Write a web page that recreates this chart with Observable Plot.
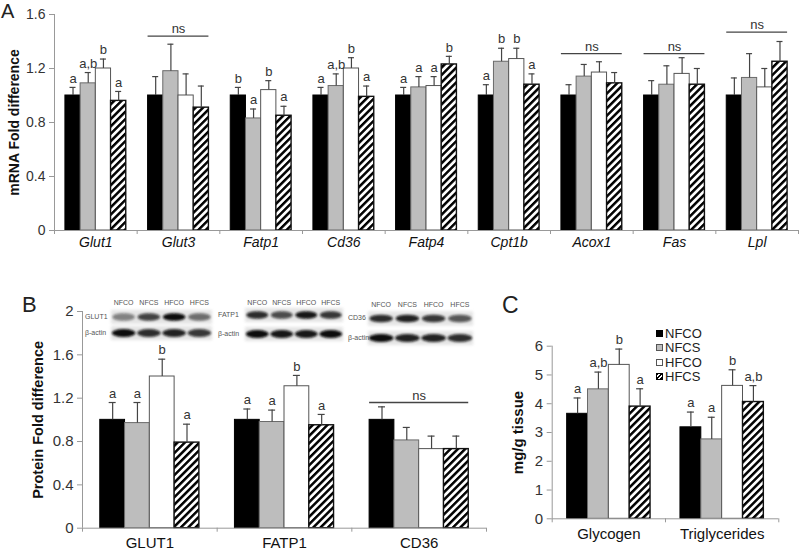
<!DOCTYPE html>
<html><head><meta charset="utf-8">
<script src="https://cdn.jsdelivr.net/npm/d3@7"></script>
<script src="https://cdn.jsdelivr.net/npm/@observablehq/plot@0.6"></script>
<style>
body{margin:0;background:#fff;font-family:"Liberation Sans",Arial,sans-serif;}
#fig{position:relative;width:800px;height:552px;overflow:hidden;background:#fff;}
.panel{position:absolute;}
.plabel{position:absolute;color:#222;line-height:1;}
.leg{position:absolute;font-size:13px;color:#222;line-height:13px;white-space:nowrap;}
.sw{display:inline-block;width:7px;height:7px;margin-right:2px;vertical-align:1px;box-sizing:border-box;}
</style></head><body><div id="fig"></div>
<script>
// ---------- data ----------
const groups = ["NFCO", "NFCS", "HFCO", "HFCS"];

// Panel A: mRNA
const mrnaGenes = ["Glut1", "Glut3", "Fatp1", "Cd36", "Fatp4", "Cpt1b", "Acox1", "Fas", "Lpl"];
const mrnaMean = [
  [1.00, 1.09, 1.20, 0.96],
  [1.00, 1.18, 1.00, 0.91],
  [1.00, 0.83, 1.04, 0.85],
  [1.00, 1.07, 1.20, 0.99],
  [1.00, 1.06, 1.07, 1.23],
  [1.00, 1.25, 1.27, 1.08],
  [1.00, 1.14, 1.17, 1.09],
  [1.00, 1.08, 1.16, 1.08],
  [1.00, 1.13, 1.06, 1.25]
];
const mrnaErr = [
  [0.06, 0.08, 0.07, 0.07],
  [0.14, 0.20, 0.16, 0.16],
  [0.06, 0.07, 0.07, 0.07],
  [0.06, 0.09, 0.08, 0.08],
  [0.06, 0.08, 0.07, 0.06],
  [0.08, 0.10, 0.08, 0.08],
  [0.08, 0.09, 0.08, 0.08],
  [0.11, 0.14, 0.12, 0.12],
  [0.13, 0.18, 0.14, 0.15]
];
const mrnaLetters = [
  ["a", "a,b", "b", "a"],
  null,
  ["b", "a", "b", "a"],
  ["a", "a,b", "b", "a"],
  ["a", "a", "a", "b"],
  ["a", "b", "b", "a"],
  null, null, null
];
const mrnaNs = [{cat: "Glut3", y: 1.44}, {cat: "Acox1", y: 1.31}, {cat: "Fas", y: 1.31}, {cat: "Lpl", y: 1.47}];
const mrnaTicks = [0, 0.4, 0.8, 1.2, 1.6];

// Panel B: protein
const protNames = ["GLUT1", "FATP1", "CD36"];
const protMean = [
  [1.00, 0.97, 1.40, 0.79],
  [1.00, 0.98, 1.31, 0.95],
  [1.00, 0.81, 0.73, 0.73]
];
const protErr = [
  [0.16, 0.19, 0.16, 0.17],
  [0.10, 0.11, 0.10, 0.10],
  [0.12, 0.12, 0.12, 0.12]
];
const protLetters = [["a", "a", "b", "a"], ["a", "a", "b", "a"], null];
const protNs = [{cat: "CD36", y: 1.16}];
const protTicks = [0, 0.4, 0.8, 1.2, 1.6, 2];
// western blot band intensities (target, beta-actin) per lane
const blotTarget = [[0.45, 0.75, 1.0, 0.55], [0.85, 0.7, 0.95, 0.8], [0.85, 0.9, 0.8, 0.65]];
const blotActin = [[1.0, 0.85, 0.9, 0.8], [1.0, 0.95, 0.95, 1.0], [1.0, 0.9, 0.9, 0.85]];

// Panel C: tissue content
const tissueNames = ["Glycogen", "Triglycerides"];
const tissueMean = [
  [3.65, 4.50, 5.35, 3.90],
  [3.18, 2.76, 4.62, 4.06]
];
const tissueErr = [
  [0.55, 0.60, 0.55, 0.62],
  [0.53, 0.77, 0.56, 0.57]
];
const tissueLetters = [["a", "a,b", "b", "a"], ["a", "a", "b", "a,b"]];
const tissueTicks = [0, 1, 2, 3, 4, 5, 6];

// ---------- drawing ----------
const fig = document.getElementById("fig");
const FONT = "Liberation Sans, Arial, sans-serif";

function panel(cfg) {
  const {id, cats, means, errs, letters, ns, yMax, yTicks, width, height, ml, mr, mt, mb,
         ylabel, ylabelDx, tickFont, catFont, italic, left, top, capPx} = cfg;
  const n = cats.length;
  const catPx = (width - ml - mr) / n;
  const w = 0.184, pad = (1 - 4 * w) / 2;
  const cap = capPx / catPx;
  const rows = [];
  cats.forEach((c, i) => groups.forEach((g, j) => {
    const x1 = i + pad + j * w;
    rows.push({cat: c, grp: g, i, j, mean: means[i][j], err: errs[i][j],
      letter: letters[i] ? letters[i][j] : null, x1, x2: x1 + w, xc: x1 + w / 2});
  }));
  const fills = ["#000", "#bdbdbd", "#fff", `url(#hatch-${id})`];
  const strokes = ["#000", "#6a6a6a", "#555", "#111"];
  const nsRows = ns.map(d => ({i: cats.indexOf(d.cat), y: d.y}));
  const marks = [];
  groups.forEach((g, j) => {
    marks.push(Plot.rectY(rows.filter(r => r.j === j),
      {x1: "x1", x2: "x2", y1: 0, y2: "mean", fill: fills[j], stroke: strokes[j], strokeWidth: j === 3 ? 1.4 : 1}));
  });
  marks.push(
    Plot.ruleX(rows, {x: "xc", y1: "mean", y2: d => d.mean + d.err, stroke: "#444", strokeWidth: 1.2}),
    Plot.ruleY(rows, {y: d => d.mean + d.err, x1: d => d.xc - cap, x2: d => d.xc + cap, stroke: "#444", strokeWidth: 1.2}),
    Plot.text(rows.filter(r => r.letter), {x: "xc", y: d => d.mean + d.err, text: "letter", dy: -9, fontSize: 13, fill: "#333", fontFamily: FONT}),
    Plot.ruleY(nsRows, {y: "y", x1: d => d.i + pad, x2: d => d.i + 1 - pad, stroke: "#444", strokeWidth: 1.3}),
    Plot.text(nsRows, {x: d => d.i + 0.5, y: "y", text: () => "ns", dy: -7, fontSize: 13, fill: "#333", fontFamily: FONT}),
    Plot.ruleX([0], {stroke: "#999"}),
    Plot.ruleY([0], {stroke: "#999"}),
    Plot.axisY({ticks: yTicks, tickSize: 5, tickPadding: 4, tickFormat: d => String(+d.toFixed(1)),
      fontSize: tickFont, stroke: "#999", fill: "#333", label: null}),
    Plot.axisX({ticks: d3.range(n + 1), tickSize: 4, tickFormat: () => "", stroke: "#999", label: null}),
    Plot.axisX({ticks: d3.range(n).map(i => i + 0.5), tickSize: 0, tickPadding: cfg.catPadPx,
      tickFormat: d => cats[Math.floor(d)], fontSize: catFont, fontStyle: italic ? "italic" : "normal",
      fill: "#111", label: null}),
    Plot.text([ylabel], {frameAnchor: "left", textAnchor: "middle", rotate: -90, dx: ylabelDx, fontSize: cfg.ylabelFont,
      fontWeight: "bold", fill: "#111", fontFamily: FONT})
  );
  const svg = Plot.plot({
    width, height, marginLeft: ml, marginRight: mr, marginTop: mt, marginBottom: mb,
    x: {type: "linear", domain: [0, n], label: null},
    y: {domain: [0, yMax], label: null},
    style: {fontFamily: FONT, background: "transparent", overflow: "visible", color: "#333"},
    marks
  });
  d3.select(svg).insert("defs", ":first-child").html(
    `<pattern id="hatch-${id}" patternUnits="userSpaceOnUse" width="5.2" height="5.2" patternTransform="rotate(45)">` +
    `<rect width="5.2" height="5.2" fill="#fff"/><rect width="2.5" height="5.2" fill="#000"/></pattern>`);
  svg.classList.add("panel");
  svg.style.left = left + "px";
  svg.style.top = top + "px";
  fig.appendChild(svg);
}

panel({id: "A", cats: mrnaGenes, means: mrnaMean, errs: mrnaErr, letters: mrnaLetters, ns: mrnaNs,
  yMax: 1.6, yTicks: mrnaTicks, width: 800, height: 260, ml: 54, mr: 2, mt: 14, mb: 30,
  ylabel: "mRNA Fold difference", ylabelDx: -40, ylabelFont: 14, tickFont: 14, catFont: 14, italic: true,
  catPadPx: 7, left: 0, top: 0, capPx: 3});

panel({id: "B", cats: protNames, means: protMean, errs: protErr, letters: protLetters, ns: protNs,
  yMax: 2, yTicks: protTicks, width: 500, height: 272, ml: 82, mr: 14, mt: 31, mb: 24.3,
  ylabel: "Protein Fold difference", ylabelDx: -44, ylabelFont: 14.5, tickFont: 15, catFont: 15, italic: false,
  catPadPx: 9, left: 0, top: 280, capPx: 3.5});

panel({id: "C", cats: tissueNames, means: tissueMean, errs: tissueErr, letters: tissueLetters, ns: [],
  yMax: 6, yTicks: tissueTicks, width: 360, height: 252, ml: 111.7, mr: 21.7, mt: 45.7, mb: 33.7,
  ylabel: "mg/g tissue", ylabelDx: -34, ylabelFont: 15, tickFont: 15, catFont: 15, italic: false,
  catPadPx: 10, left: 440, top: 300, capPx: 3.5});

// ---------- western blot insets ----------
const blotSvg = d3.select(fig).append("svg").attr("class", "panel")
  .attr("width", 800).attr("height", 552).style("left", "0px").style("top", "0px")
  .style("pointer-events", "none");
const defs = blotSvg.append("defs");
defs.append("filter").attr("id", "blur1").attr("x", "-20%").attr("y", "-50%").attr("width", "140%").attr("height", "200%")
  .append("feGaussianBlur").attr("stdDeviation", 1.3);
defs.append("filter").attr("id", "blur2").attr("x", "-10%").attr("y", "-50%").attr("width", "120%").attr("height", "200%")
  .append("feGaussianBlur").attr("stdDeviation", 1.6);
const blotGeom = [
  {x0: 111, x1: 212, tY: 317, aY: 333, lx: 85, hy: 303},
  {x0: 245, x1: 343, tY: 315, aY: 334, lx: 218, hy: 303},
  {x0: 368, x1: 473, tY: 318.5, aY: 338, lx: 348, hy: 305}
];
blotGeom.forEach((b, k) => {
  const laneW = (b.x1 - b.x0) / 4;
  const g = blotSvg.append("g");
  [b.tY, b.aY].forEach(cy => {
    g.append("rect").attr("x", b.x0).attr("y", cy - 7).attr("width", b.x1 - b.x0).attr("height", 14)
      .attr("fill", "#e4e4e4").attr("filter", "url(#blur2)");
  });
  groups.forEach((grp, j) => {
    const cx = b.x0 + laneW * (j + 0.5);
    g.append("text").attr("x", cx).attr("y", b.hy).attr("text-anchor", "middle").attr("dominant-baseline", "middle")
      .attr("font-size", 7).attr("font-family", FONT).attr("fill", "#555").text(grp);
    g.append("ellipse").attr("cx", cx).attr("cy", b.tY).attr("rx", laneW * 0.45).attr("ry", 3.8)
      .attr("fill", "#0a0a0a").attr("opacity", blotTarget[k][j]).attr("filter", "url(#blur1)");
    g.append("ellipse").attr("cx", cx).attr("cy", b.aY).attr("rx", laneW * 0.47).attr("ry", 4)
      .attr("fill", "#0a0a0a").attr("opacity", blotActin[k][j]).attr("filter", "url(#blur1)");
  });
  g.append("text").attr("x", b.lx).attr("y", b.tY).attr("dominant-baseline", "middle")
    .attr("font-size", 7).attr("font-family", FONT).attr("fill", "#555").text(protNames[k]);
  g.append("text").attr("x", b.lx).attr("y", b.aY).attr("dominant-baseline", "middle")
    .attr("font-size", 7).attr("font-family", FONT).attr("fill", "#555").text("β-actin");
});

// ---------- panel letters ----------
[["A", 1, 1, 20], ["B", 22, 294, 22], ["C", 502, 294, 23]].forEach(([t, x, y, s]) => {
  const d = document.createElement("div");
  d.className = "plabel"; d.textContent = t;
  d.style.left = x + "px"; d.style.top = y + "px"; d.style.fontSize = s + "px";
  fig.appendChild(d);
});

// ---------- legend (panel C) ----------
const swatchStyles = [
  "background:#000;border:1px solid #000;",
  "background:#bdbdbd;border:1px solid #555;",
  "background:#fff;border:1px solid #555;",
  "background:repeating-linear-gradient(-45deg,#000 0 1.5px,#fff 1.5px 3px);border:1.5px solid #000;"
];
groups.forEach((g, j) => {
  const d = document.createElement("div");
  d.className = "leg";
  d.style.left = "656px"; d.style.top = (327 + j * 14.3) + "px";
  d.innerHTML = `<span class="sw" style="${swatchStyles[j]}"></span>${g}`;
  fig.appendChild(d);
});
</script></body></html>
